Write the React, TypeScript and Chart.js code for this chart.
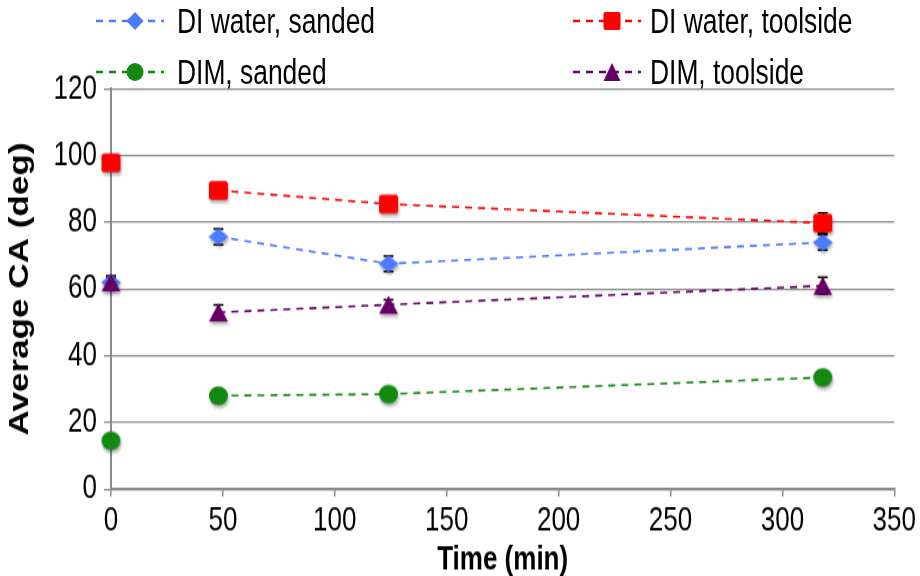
import React, { useEffect, useRef } from "react";
import { Chart, registerables } from "chart.js";

Chart.register(...registerables);

// ---------- data ----------
const timeMin = [0, 48, 124, 318];
const seriesNames = ["DI water, sanded", "DI water, toolside", "DIM, sanded", "DIM, toolside"];
const diWaterSanded = [62, 75.7, 67.6, 74.0];
const diWaterSandedErr = [1.5, 2.4, 2.3, 2.3];
const diWaterToolside = [97.9, 89.6, 85.5, 79.8];
const diWaterToolsideErr = [1.0, 1.5, 1.5, 3.0];
const dimSanded = [14.5, 28.0, 28.5, 33.5];
const dimSandedErr = [1.0, 1.8, 1.0, 1.0];
const dimToolside = [62, 53.0, 55.3, 61.0];
const dimToolsideErr = [2.0, 2.2, 1.5, 2.5];
const yTickValues = [0, 20, 40, 60, 80, 100, 120];
const xTickValues = [0, 50, 100, 150, 200, 250, 300, 350];

const seriesValues = [diWaterSanded, diWaterToolside, dimSanded, dimToolside];
const seriesErrors = [diWaterSandedErr, diWaterToolsideErr, dimSandedErr, dimToolsideErr];

// ---------- styles ----------
// The reference picture is stretched vertically; the chart is drawn on a
// shorter canvas and shown at full height.
const W = 920;
const H_SCREEN = 576;
const SY = 1.3;
const H = Math.round(H_SCREEN / SY);

type Shape = "diamond" | "square" | "circle" | "triangle";
const shapes: Shape[] = ["diamond", "square", "circle", "triangle"];
const colors = ["#4a7bff", "#ff0000", "#128a12", "#660066"];
const markerSizes = [
  { w: 20, h: 17 },
  { w: 19, h: 19 },
  { w: 19, h: 19 },
  { w: 19, h: 18 },
];
const drawOrder = [3, 2, 1, 0];
const FONT = "'Liberation Sans', Arial, Helvetica, sans-serif";
const GRID = "#8c8c8c";

function shapePath(ctx: CanvasRenderingContext2D, shape: Shape, cx: number, cy: number, w: number, h: number) {
  ctx.beginPath();
  if (shape === "diamond") {
    ctx.moveTo(cx, cy - h / 2);
    ctx.lineTo(cx + w / 2, cy);
    ctx.lineTo(cx, cy + h / 2);
    ctx.lineTo(cx - w / 2, cy);
    ctx.closePath();
  } else if (shape === "square") {
    const r = 2.5;
    const x0 = cx - w / 2, y0 = cy - h / 2;
    ctx.moveTo(x0 + r, y0);
    ctx.lineTo(x0 + w - r, y0);
    ctx.quadraticCurveTo(x0 + w, y0, x0 + w, y0 + r);
    ctx.lineTo(x0 + w, y0 + h - r);
    ctx.quadraticCurveTo(x0 + w, y0 + h, x0 + w - r, y0 + h);
    ctx.lineTo(x0 + r, y0 + h);
    ctx.quadraticCurveTo(x0, y0 + h, x0, y0 + h - r);
    ctx.lineTo(x0, y0 + r);
    ctx.quadraticCurveTo(x0, y0, x0 + r, y0);
    ctx.closePath();
  } else if (shape === "circle") {
    ctx.ellipse(cx, cy, w / 2, h / 2, 0, 0, Math.PI * 2);
  } else {
    ctx.moveTo(cx, cy - h / 2);
    ctx.lineTo(cx + w / 2, cy + h / 2);
    ctx.lineTo(cx - w / 2, cy + h / 2);
    ctx.closePath();
  }
}

// marker image in canvas units (compensates for the vertical stretch)
function makeMarker(shape: Shape, color: string, w: number, hScreen: number): HTMLCanvasElement {
  const h = hScreen / SY;
  const pad = 8;
  const c = document.createElement("canvas");
  c.width = Math.round(w + pad * 2);
  c.height = Math.round(h + pad * 2);
  const ctx = c.getContext("2d")!;
  ctx.shadowColor = "rgba(0,0,0,0.33)";
  ctx.shadowBlur = 3;
  ctx.shadowOffsetX = 1;
  ctx.shadowOffsetY = 2.3;
  ctx.fillStyle = color;
  shapePath(ctx, shape, c.width / 2, c.height / 2, w, h);
  ctx.fill();
  return c;
}

const errorBarPlugin = {
  id: "errorBars",
  beforeDatasetsDraw(chart: any) {
    const { ctx, scales } = chart;
    const x = scales.x, y = scales.y;
    ctx.save();
    ctx.strokeStyle = "#000";
    ctx.lineWidth = 1.5;
    seriesValues.forEach((vals, i) => {
      vals.forEach((v, j) => {
        const e = seriesErrors[i][j];
        const px = x.getPixelForValue(timeMin[j]);
        const top = y.getPixelForValue(v + e);
        const bot = y.getPixelForValue(v - e);
        ctx.beginPath();
        ctx.moveTo(px, top);
        ctx.lineTo(px, bot);
        ctx.moveTo(px - 5, top);
        ctx.lineTo(px + 5, top);
        ctx.moveTo(px - 5, bot);
        ctx.lineTo(px + 5, bot);
        ctx.stroke();
      });
    });
    ctx.restore();
  },
};

function LegendIcon({ i }: { i: number }) {
  const shape = shapes[i];
  const color = colors[i];
  const cx = 40, cy = 12;
  const w = 17, h = 18;
  let markerEl: React.ReactNode;
  if (shape === "diamond") {
    markerEl = <polygon points={`${cx},${cy - h / 2} ${cx + w / 2},${cy} ${cx},${cy + h / 2} ${cx - w / 2},${cy}`} fill={color} />;
  } else if (shape === "square") {
    markerEl = <rect x={cx - w / 2} y={cy - h / 2} width={w} height={h} rx={2} fill={color} />;
  } else if (shape === "circle") {
    markerEl = <ellipse cx={cx} cy={cy} rx={w / 2} ry={h / 2} fill={color} />;
  } else {
    markerEl = <polygon points={`${cx},${cy - h / 2} ${cx + w / 2},${cy + h / 2} ${cx - w / 2},${cy + h / 2}`} fill={color} />;
  }
  return (
    <svg width={70} height={24} style={{ position: "absolute", left: 0, top: 0 }}>
      <line x1={1} y1={cy} x2={69} y2={cy} stroke={color} strokeWidth={2.5} strokeDasharray="7 6" />
      {markerEl}
    </svg>
  );
}

const legendPos = [
  { iconX: 95, textX: 177, cy: 21 },
  { iconX: 572, textX: 650, cy: 21 },
  { iconX: 95, textX: 177, cy: 72 },
  { iconX: 572, textX: 650, cy: 72 },
];

export default function App() {
  const ref = useRef<HTMLCanvasElement>(null);

  useEffect(() => {
    document.body.style.margin = "0";
    const markers = shapes.map((s, i) => makeMarker(s, colors[i], markerSizes[i].w, markerSizes[i].h));
    const datasets = seriesValues.map((vals, i) => ({
      label: seriesNames[i],
      data: vals.map((v, j) => ({ x: timeMin[j], y: v })),
      borderColor: colors[i],
      backgroundColor: colors[i],
      borderWidth: 1.6,
      borderDash: [7, 6],
      pointStyle: markers[i] as any,
      pointRadius: 10,
      pointHoverRadius: 10,
      showLine: true,
      tension: 0,
      clip: false,
      order: drawOrder[i],
      segment: {
        borderColor: (ctx: any) => (ctx.p0DataIndex === 0 ? "rgba(0,0,0,0)" : colors[i]),
      },
    }));

    const chart = new Chart(ref.current!, {
      type: "line",
      data: { datasets } as any,
      plugins: [errorBarPlugin],
      options: {
        animation: false,
        responsive: false,
        devicePixelRatio: 1,
        layout: { padding: { top: 89 / SY, right: 22, left: 0, bottom: 0 } },
        plugins: {
          legend: { display: false },
          tooltip: { enabled: false },
        },
        scales: {
          x: {
            type: "linear",
            min: 0,
            max: 350,
            afterFit: (s: any) => {
              s.height = H - 489 / SY;
            },
            afterBuildTicks: (s: any) => {
              s.ticks = xTickValues.map((v) => ({ value: v }));
            },
            grid: {
              drawOnChartArea: false,
              drawTicks: true,
              tickLength: 5.5,
              color: GRID,
              lineWidth: 1.5,
            },
            border: { display: true, color: GRID, width: 1.4 },
            ticks: {
              color: "#000",
              font: { family: FONT, size: 26 },
              padding: 4,
              maxRotation: 0,
            },
            title: {
              display: true,
              text: "Time (min)",
              color: "#000",
              font: { family: FONT, size: 26, weight: "bold", lineHeight: 0.92 },
              padding: { top: 0, bottom: 0 },
            },
          },
          y: {
            type: "linear",
            min: 0,
            max: 120,
            afterFit: (s: any) => {
              s.width = 111;
            },
            afterBuildTicks: (s: any) => {
              s.ticks = yTickValues.map((v) => ({ value: v }));
            },
            grid: {
              drawOnChartArea: true,
              drawTicks: true,
              tickLength: 7,
              color: GRID,
              lineWidth: 1.3,
            },
            border: { display: true, color: GRID, width: 2 },
            ticks: {
              color: "#000",
              font: { family: FONT, size: 26 },
              padding: 7,
            },
            title: {
              display: true,
              text: "Average CA (deg)",
              color: "#000",
              font: { family: FONT, size: 27, weight: "bold" },
              padding: { top: 4, bottom: 0 },
            },
          },
        },
      },
    });
    return () => chart.destroy();
  }, []);

  return (
    <div style={{ position: "relative", width: W, height: H_SCREEN, fontFamily: FONT, background: "#fff", overflow: "hidden" }}>
      <canvas ref={ref} width={W} height={H} style={{ width: `${W}px`, height: `${H_SCREEN}px`, display: "block" }} />
      {seriesNames.map((name, i) => (
        <React.Fragment key={name}>
          <div style={{ position: "absolute", left: legendPos[i].iconX, top: legendPos[i].cy - 12, width: 70, height: 24 }}>
            <LegendIcon i={i} />
          </div>
          <div
            style={{
              position: "absolute",
              left: legendPos[i].textX,
              top: legendPos[i].cy - 15,
              height: 30,
              lineHeight: "30px",
              fontSize: 26.4,
              color: "#000",
              whiteSpace: "nowrap",
              transform: `scaleY(${SY})`,
              transformOrigin: "50% 50%",
            }}
          >
            {name}
          </div>
        </React.Fragment>
      ))}
    </div>
  );
}
